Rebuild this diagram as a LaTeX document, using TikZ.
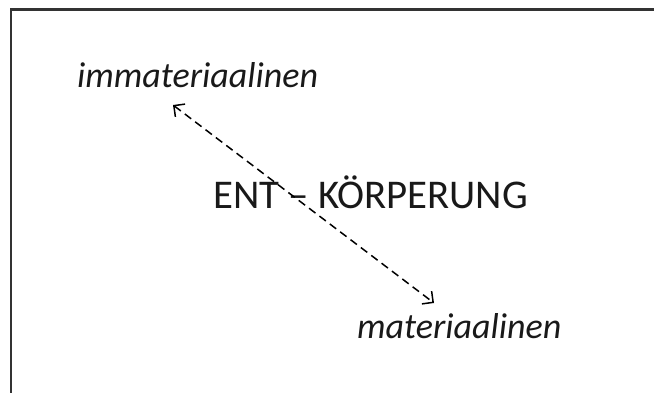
\documentclass[tikz,border=0pt]{standalone}
\usepackage{fontspec}
\setmainfont{Carlito}
\usetikzlibrary{arrows.meta}
\begin{document}
\begin{tikzpicture}[x=1pt,y=1pt,
  lbl/.style={inner sep=0pt, anchor=base west, text=black!90},
  link/.style={dash pattern=on 8pt off 5pt, line width=1.5pt, {Straight Barb[length=8pt,width=16pt]}-{Straight Barb[length=8pt,width=16pt]}}]
\useasboundingbox (0,0) rectangle (654,392);
\draw[line width=2.5pt, draw=black!80] (11,-20) -- (11,382.5) -- (680,382.5);
\node[lbl, font=\fontsize{36}{40}\selectfont\itshape] (imm) at (77,305) {immateriaalinen};
\node[lbl, font=\fontsize{40.8}{44}\selectfont] (ent) at (213,184) {ENT – KÖRPERUNG};
\node[lbl, font=\fontsize{36}{40}\selectfont\itshape] (mat) at (357,54) {materiaalinen};
\coordinate (a) at (173,287);
\coordinate (b) at (434,89);
\draw[link] (a) -- (b);
\end{tikzpicture}
\end{document}
